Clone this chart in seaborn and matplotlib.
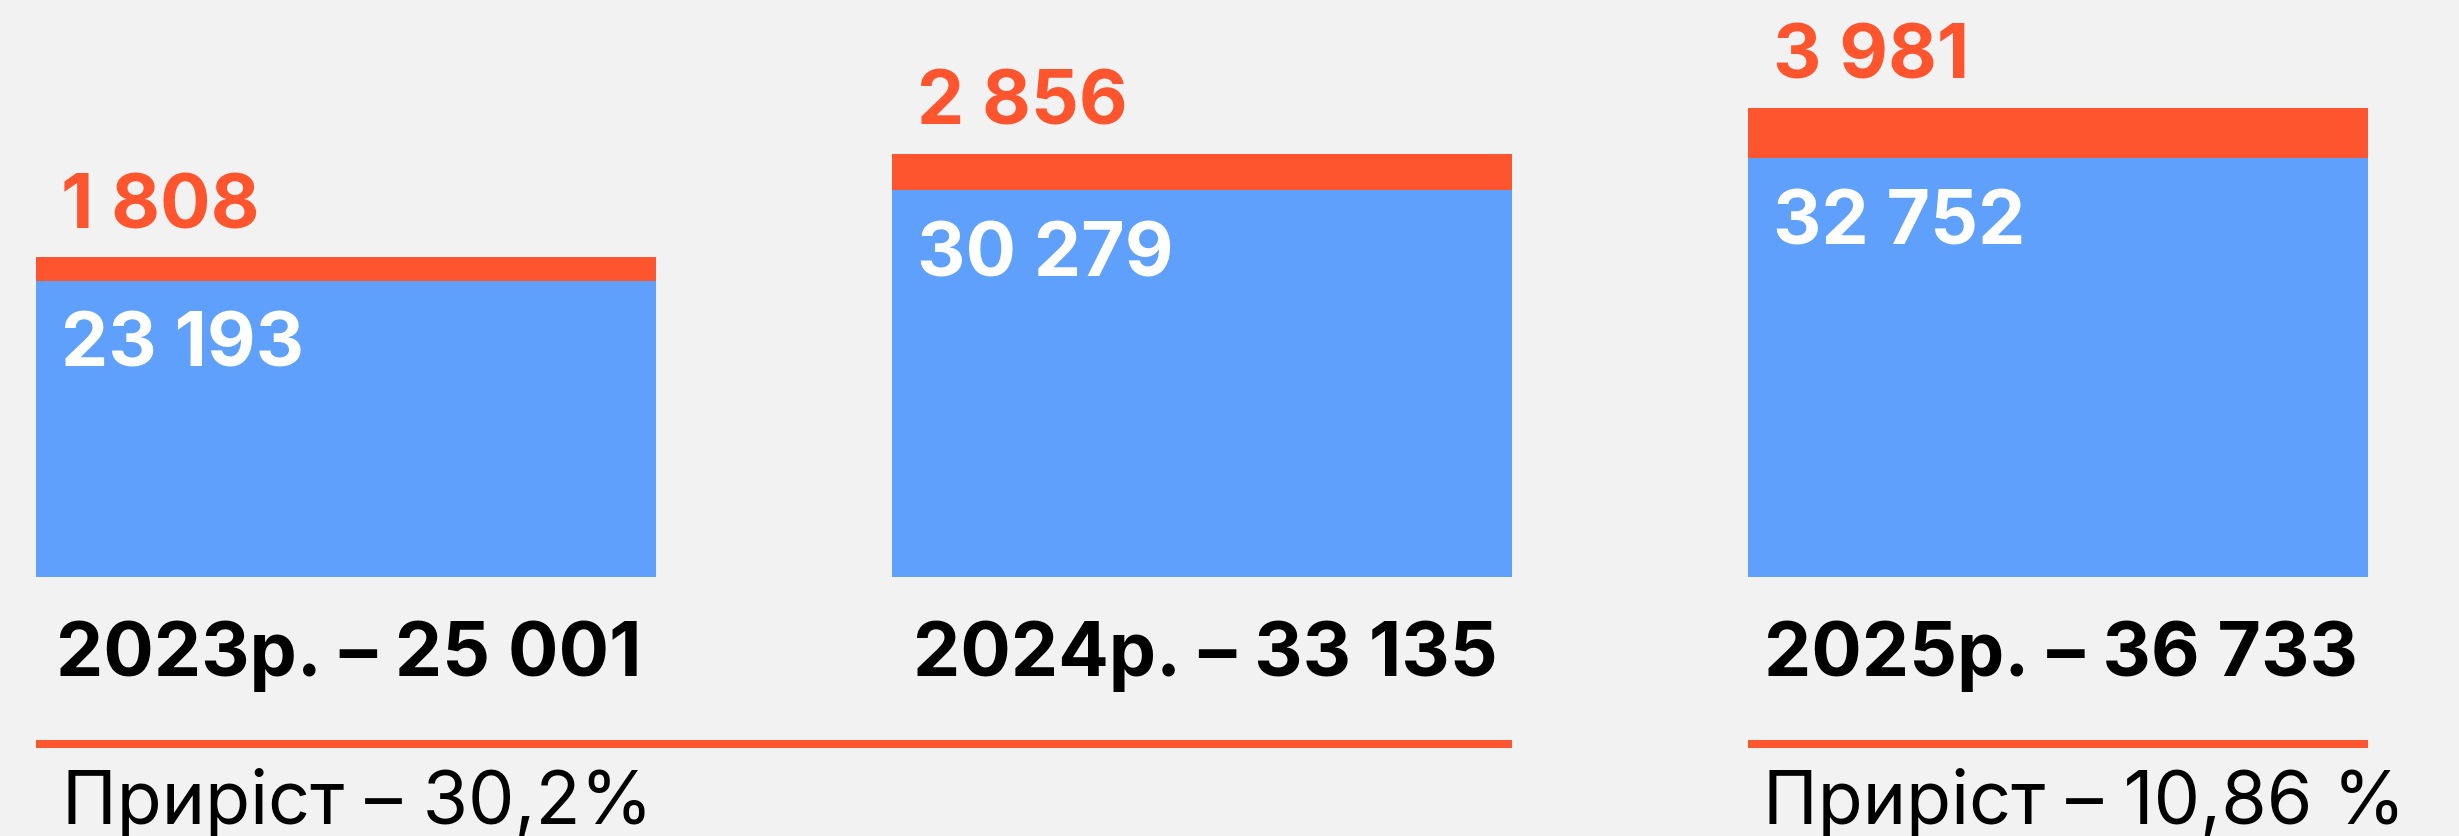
import matplotlib
matplotlib.use("Agg")
import matplotlib.pyplot as plt
import matplotlib.transforms as mtransforms
import seaborn as sns

# ---- data ----
years = ["2023р.", "2024р.", "2025р."]
base_values = [23193, 30279, 32752]
added_values = [1808, 2856, 3981]
growth_labels = ["Приріст – 30,2%", "Приріст – 10,86 %"]
growth_spans = [(0, 1), (2, 2)]  # category index ranges covered by each growth line

totals = [b + a for b, a in zip(base_values, added_values)]

def fmt(v):
    return f"{v:,}".replace(",", " ")

# ---- style ----
BG = "#F2F2F2"
BLUE = "#5FA0FC"
ORANGE = "#FF552E"
sns.set_theme(style="white")
plt.rcParams["font.family"] = ["Inter", "DejaVu Sans"]

W, H, DPI = 24.59, 8.36, 100
fig = plt.figure(figsize=(W, H), dpi=DPI)
fig.patch.set_facecolor(BG)
ax = fig.add_axes([0, 0, 1, 1])
ax.set_facecolor(BG)

bw = 0.7245
sns.barplot(x=years, y=totals, color=ORANGE, saturation=1, width=bw,
            errorbar=None, linewidth=0, ax=ax)
sns.barplot(x=years, y=base_values, color=BLUE, saturation=1, width=bw,
            errorbar=None, linewidth=0, ax=ax)

ax.set_xlim(-0.4045, 2.4685)
ax.set_ylim(-20266, 45149)
ax.axis("off")

FS = 54
for i, (b, a, t) in enumerate(zip(base_values, added_values, totals)):
    left = i - bw / 2
    # added value above bar (orange)
    ax.annotate(fmt(a), xy=(left, t), xycoords="data",
                xytext=(25, 29), textcoords="offset pixels",
                ha="left", va="baseline", fontsize=FS, fontweight="bold",
                color=ORANGE)
    # base value inside bar (white)
    ax.annotate(fmt(b), xy=(left, b), xycoords="data",
                xytext=(25, -86), textcoords="offset pixels",
                ha="left", va="baseline", fontsize=FS, fontweight="bold",
                color="white")
    # category label with total
    ax.annotate(f"{years[i]} – {fmt(t)}", xy=(i, 0), xycoords="data",
                xytext=(3, -99), textcoords="offset pixels",
                ha="center", va="baseline", fontsize=FS, fontweight="bold",
                color="black")

# growth lines and labels
trans = mtransforms.blended_transform_factory(ax.transData, ax.transAxes)
line_y = 1 - 744 / 836
for (s, e), lab in zip(growth_spans, growth_labels):
    x0 = s - bw / 2
    x1 = e + bw / 2
    ax.plot([x0, x1], [line_y, line_y], transform=trans, color=ORANGE,
            linewidth=8 * 72 / DPI, solid_capstyle="butt", clip_on=False)
    ax.annotate(lab, xy=(x0, 0), xycoords="data",
                xytext=(26 if s == 0 else 15, -247), textcoords="offset pixels",
                ha="left", va="baseline", fontsize=53, fontweight="normal",
                color="black", annotation_clip=False)

fig.savefig("out.png", dpi=DPI, facecolor=BG)
